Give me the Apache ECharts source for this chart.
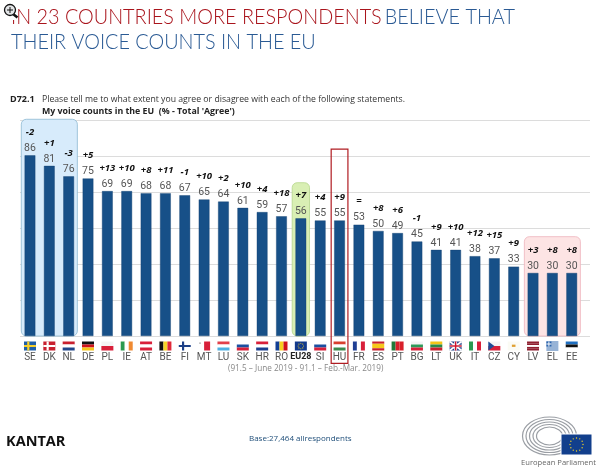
<!DOCTYPE html>
<html><head><meta charset="utf-8">
<style>html,body{margin:0;padding:0;background:#fff}#c{width:600px;height:473px}</style>
<script src="https://cdn.jsdelivr.net/npm/echarts@6/dist/echarts.min.js"></script>
</head><body><div id="c"></div>
<script>
const countries = ['SE','DK','NL','DE','PL','IE','AT','BE','FI','MT','LU','SK','HR','RO','EU28','SI','HU','FR','ES','PT','BG','LT','UK','IT','CZ','CY','LV','EL','EE'];
const agree = [86,81,76,75,69,69,68,68,67,65,64,61,59,57,56,55,55,53,50,49,45,41,41,38,37,33,30,30,30];
const change = ['-2','+1','-3','+5','+13','+10','+8','+11','-1','+10','+2','+10','+4','+18','+7','+4','+9','=','+8','+6','-1','+9','+10','+12','+15','+9','+3','+8','+8'];

const PX = 2.1; // px per percentage point
const gridStep = 36 / PX;
const FONT = '"Open Sans","Noto Sans",sans-serif';
const LABEL_FONT = 'Roboto,"Noto Sans",sans-serif';

// [first index, last index, top value, bottom value, fill, border]
const boxes = [
  [0, 2, 103.2, 0, '#d7ebfb', '#8db9d2'],
  [14, 14, 73, 0, '#d9efb4', '#b5d68a'],
  [26, 28, 47.3, 0, '#fde4e4', '#eeb4bc']
];
const hl = [16, 16, 89, -13, 'none', '#b01c22'];

function stripes(dir, cols){ return {dir, cols}; }
const flags = {
  SE:{base:'#1f5fa8',cross:['#f6cf2a',.36,.5,.18,.22]},
  DK:{base:'#c8202f',cross:['#ffffff',.36,.5,.18,.22]},
  NL:stripes('h',['#c8202f','#ffffff','#21468b']),
  DE:stripes('h',['#111111','#d0121b','#f5c518']),
  PL:stripes('h',['#f4f4f4','#d8203a']),
  IE:stripes('v',['#2a9a50','#ffffff','#f08a32']),
  AT:stripes('h',['#d8203a','#ffffff','#d8203a']),
  BE:stripes('v',['#111111','#f5d327','#e0293a']),
  FI:{base:'#ffffff',cross:['#1c3f87',.36,.5,.18,.22]},
  MT:stripes('v',['#ffffff','#d8203a']),
  LU:stripes('h',['#e2404a','#ffffff','#4fb0e2']),
  SK:stripes('h',['#ffffff','#1b4fa0','#d8203a']),
  HR:stripes('h',['#d8203a','#ffffff','#1b3f8f']),
  RO:stripes('v',['#123f95','#f6d020','#d0121b']),
  EU28:{base:'#123a8c',dots:'#f5d327'},
  SI:stripes('h',['#ffffff','#1b4fa0','#d8203a']),
  HU:stripes('h',['#d8402f','#ffffff','#3c8a4e']),
  FR:stripes('v',['#1f3f94','#ffffff','#d8203a']),
  ES:stripes('h',['#c8202f','#f6c81c','#f6c81c','#c8202f']),
  PT:stripes('v',['#1f7a3a','#d8202a','#d8202a']),
  BG:stripes('h',['#f4f4f4','#2e9a5a','#d8203a']),
  LT:stripes('h',['#f5c518','#2a8a4a','#c8202f']),
  UK:{base:'#1c3f87',uk:true},
  IT:stripes('v',['#2a9a50','#ffffff','#d8203a']),
  CZ:{cz:true},
  CY:{base:'#fbfbf4',dots:null,spot:'#e0a030'},
  LV:stripes('h',['#8f1f30','#8f1f30','#ffffff','#8f1f30','#8f1f30']),
  EL:{greek:true},
  EE:stripes('h',['#1f6fc0','#111111','#ffffff'])
};

function flagShapes(f, x, y, w, h){
  const out = [];
  const R = (a,b,c,d,fill)=>out.push({type:'rect',shape:{x:x+a*w,y:y+b*h,width:c*w,height:d*h},style:{fill}});
  if (f.dir === 'h') f.cols.forEach((c,i)=>R(0,i/f.cols.length,1,1/f.cols.length,c));
  if (f.dir === 'v') f.cols.forEach((c,i)=>R(i/f.cols.length,0,1/f.cols.length,1,c));
  if (f.base) R(0,0,1,1,f.base);
  if (f.cross){const [c,vx,hy,vw,hh]=f.cross;R(vx-vw/2,0,vw,1,c);R(0,hy-hh/2,1,hh,c);}
  if (f.uk){
    [[0,0,1,1],[0,1,1,0]].forEach(l=>out.push({type:'line',shape:{x1:x+l[0]*w,y1:y+l[1]*h,x2:x+l[2]*w,y2:y+l[3]*h},style:{stroke:'#fff',lineWidth:1.6}}));
    R(.38,0,.24,1,'#fff');R(0,.36,1,.28,'#fff');R(.44,0,.12,1,'#cf142b');R(0,.42,1,.16,'#cf142b');
  }
  if (f.cz){R(0,0,1,.5,'#f4f4f4');R(0,.5,1,.5,'#d8203a');
    out.push({type:'polygon',shape:{points:[[x,y],[x+.5*w,y+.5*h],[x,y+h]]},style:{fill:'#1f4b95'}});}
  if (f.greek){R(0,0,1,1,'#ffffff');[0,2,4,6,8].forEach(i=>R(0,i/9,1,1/9,'#2f66ad'));R(0,0,.42,5/9,'#2f66ad');R(.17,0,.08,5/9,'#fff');R(0,2/9,.42,1/9,'#fff');}
  if (f.dots){for(let i=0;i<8;i++){const a=i*Math.PI/4;out.push({type:'circle',shape:{cx:x+w/2+Math.cos(a)*h*.3,cy:y+h/2+Math.sin(a)*h*.3,r:.55},style:{fill:f.dots}});}}
  if (f.spot){R(.35,.35,.3,.25,f.spot);}
  if (flags.MT===f) R(.1,.1,.12,.16,'#999');
  return out;
}

const chart = echarts.init(document.getElementById('c'),null,{renderer:'canvas'});
const boxSeries = (data,z)=>({
  type:'custom', coordinateSystem:'cartesian2d', xAxisIndex:0, yAxisIndex:0, clip:false, silent:true, z,
  data,
  encode:{x:0,y:2},
  renderItem(p,api){
    const b = data[p.dataIndex];
    const half = api.size([1,0])[0]/2;
    const a = api.coord([b[0],b[2]]), c = api.coord([b[1],b[3]]);
    const pad = b[4]==='none' ? half-1.3 : half-1;
    return {type:'rect',shape:{x:a[0]-pad,y:a[1],width:c[0]-a[0]+pad*2,height:c[1]-a[1],r:b[4]==='none'?0:5},
      style:{fill:b[4]==='none'?'transparent':b[4],stroke:b[5],lineWidth:b[4]==='none'?1.2:.8}};
  }
});

const titleRich = {
  r:{fontFamily:'Lato',fontWeight:300,fontSize:21,fill:'#a9141c',lineHeight:25},
  b:{fontFamily:'Lato',fontWeight:300,fontSize:21,fill:'#2a5a94',lineHeight:25}
};

chart.setOption({
  animation:false,
  backgroundColor:'#fff',
  textStyle:{fontFamily:FONT},
  grid:[
    {left:20.3,width:561.1,top:120,height:216},
    {left:20,right:10,top:120,height:216}
  ],
  xAxis:[
    {type:'category',gridIndex:0,data:countries,
     axisLine:{show:false},axisTick:{show:false},
     axisLabel:{interval:0,margin:16,fontSize:10,color:'#555',fontFamily:LABEL_FONT,
       formatter:v=>v==='EU28'?'{e|EU28}':v,
       rich:{e:{fontWeight:'bold',fontSize:9,color:'#222',fontFamily:LABEL_FONT}}}},
    {type:'value',gridIndex:1,min:0,max:1,show:false}
  ],
  yAxis:[
    {type:'value',gridIndex:0,min:0,max:gridStep*6,interval:gridStep,
     axisLine:{show:false},axisTick:{show:false},axisLabel:{show:false},splitLine:{show:false}},
    {type:'value',gridIndex:1,min:0,max:gridStep*6,interval:gridStep,z:0,
     axisLine:{show:false},axisTick:{show:false},axisLabel:{show:false},
     splitLine:{show:true,lineStyle:{width:1,color:['#dcdcdc','#dcdcdc','#dcdcdc','#dcdcdc','#dcdcdc','#dcdcdc','rgba(0,0,0,0)']}}}
  ],
  series:[
    boxSeries(boxes,1),
    {type:'bar',xAxisIndex:0,yAxisIndex:0,z:3,barWidth:10.7,data:agree,clip:false,
     itemStyle:{color:'#175088',borderColor:'#123f6e',borderWidth:.4},
     label:{show:true,position:'top',distance:-1,
       formatter:p=>'{c|'+change[p.dataIndex]+'}\n{v|'+p.value+'}',
       rich:{
         c:{fontFamily:FONT,fontSize:9.5,fontWeight:'bold',fontStyle:'italic',color:'#111',lineHeight:16,align:'center'},
         v:{fontFamily:LABEL_FONT,fontSize:10.5,color:'#555',lineHeight:16,align:'center'}
       }}},
    boxSeries([hl],5),
    {type:'custom',coordinateSystem:'cartesian2d',xAxisIndex:0,yAxisIndex:0,clip:false,silent:true,z:4,
     data:countries.map((c,i)=>[i,0]),encode:{x:0,y:1},
     renderItem(p,api){
       const pt=api.coord([p.dataIndex,0]);
       return {type:'group',children:flagShapes(flags[countries[p.dataIndex]],pt[0]-6,pt[1]+5.5,12,9)};
     }}
  ],
  graphic:[
    // headline
    {type:'text',x:11,y:5,z:1,scaleX:.944,style:{
      text:'{r|IN 23 COUNTRIES MORE RESPONDENTS} {b|BELIEVE THAT}\n{b|THEIR VOICE COUNTS IN THE EU}',
      rich:titleRich}},
    // question
    {type:'text',left:10,top:95,style:{text:'D72.1',font:'bold 9px '+FONT,fill:'#222'}},
    {type:'text',left:42,top:95,style:{text:'Please tell me to what extent you agree or disagree with each of the following statements.',font:'8.7px '+FONT,fill:'#333'}},
    {type:'text',left:42,top:106.5,style:{text:"My voice counts in the EU  (% - Total 'Agree')",font:'bold 8.8px '+FONT,fill:'#222'}},
    // wave note
    {type:'text',left:228,top:365,style:{text:'(91.5 – June 2019 - 91.1 – Feb.-Mar. 2019)',font:'8.2px '+FONT,fill:'#888'}},
    // footer
    {type:'text',left:6,top:434,style:{text:'KANTAR',font:'bold 14.5px '+FONT,fill:'#111'}},
    {type:'text',left:249,top:435,style:{text:'Base:27,464 allrespondents',font:'8px '+FONT,fill:'#1f4e79'}},
    {type:'text',left:521,top:458.5,style:{text:'European Parliament',font:'7.6px '+FONT,fill:'#666'}},
    // parliament logo
    {type:'group',silent:true,children:[
      ...[[27,19],[23.5,16.5],[20,14],[16.5,11.5],[13,9]].map(([rx,ry])=>({type:'ellipse',shape:{cx:549.5,cy:436,rx,ry},
        style:{fill:'none',stroke:'#9a9ea4',lineWidth:1.2}})),
      {type:'rect',z:2,shape:{x:561,y:434,width:31,height:21},style:{fill:'#123f8c',stroke:'#fff',lineWidth:1}},
      ...Array.from({length:12}).map((_,i)=>({type:'circle',z:3,shape:{cx:576.5+Math.cos(i*Math.PI/6)*6.5,cy:444.5+Math.sin(i*Math.PI/6)*6.5,r:.7},style:{fill:'#f5d327'}}))
    ]},
    // magnifier cursor
    {type:'line',z:50,silent:true,shape:{x1:13,y1:14,x2:17.5,y2:17.5},style:{stroke:'#111',lineWidth:2.6}},
    {type:'circle',z:50,silent:true,shape:{cx:10,cy:10,r:5.5},style:{fill:'#e4e6e8',stroke:'#111',lineWidth:1.3}},
    {type:'rect',z:49,silent:true,shape:{x:11,y:5,width:6,height:15},style:{fill:'#fff'}},
    {type:'line',z:51,silent:true,shape:{x1:7,y1:10,x2:13,y2:10},style:{stroke:'#111',lineWidth:1}},
    {type:'line',z:51,silent:true,shape:{x1:10,y1:7,x2:10,y2:13},style:{stroke:'#111',lineWidth:1}}
  ]
});
</script></body></html>
